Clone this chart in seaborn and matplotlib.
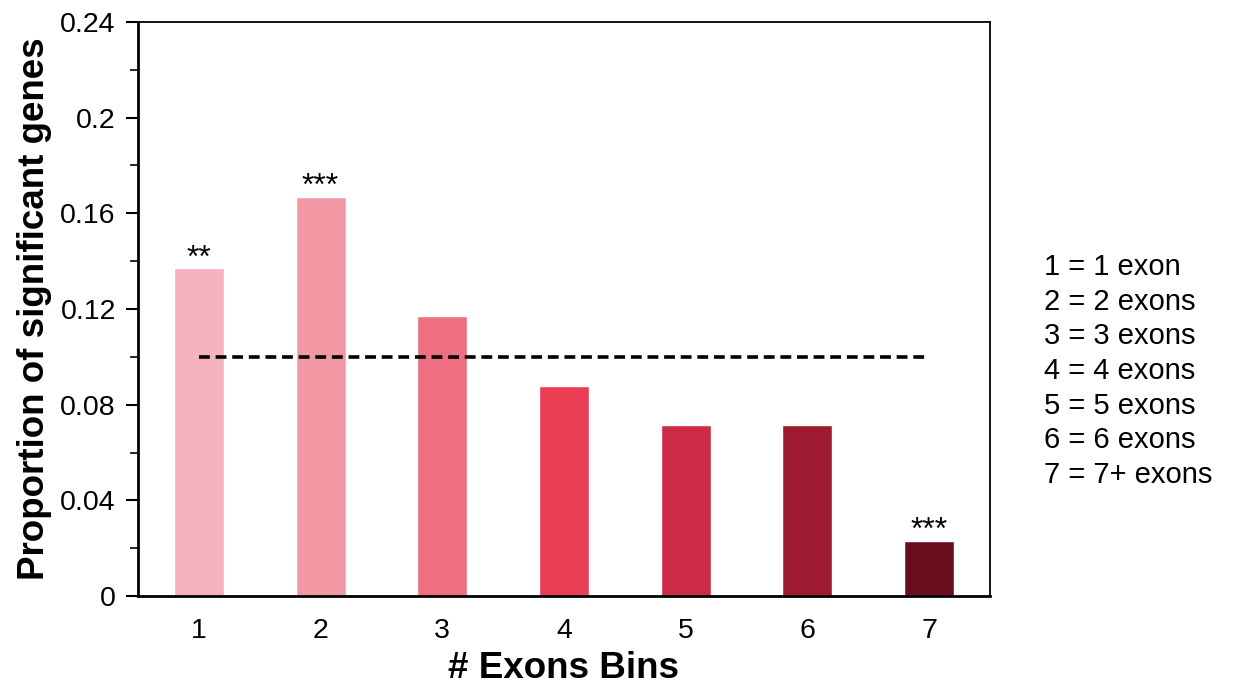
import matplotlib
matplotlib.use("Agg")
import matplotlib.pyplot as plt
import seaborn as sns
import pandas as pd
from matplotlib.ticker import MultipleLocator

bins = ["1", "2", "3", "4", "5", "6", "7"]
proportions = [0.137, 0.167, 0.117, 0.088, 0.0715, 0.0715, 0.0232]
stars = ["**", "***", "", "", "", "", "***"]
bar_colors = ["#F4B3BD", "#F298A3", "#EE6F82", "#EA3E55", "#CC2B45", "#9E1A31", "#6A0E1F"]
baseline = 0.1
legend_lines = ["1 = 1 exon", "2 = 2 exons", "3 = 3 exons", "4 = 4 exons",
                "5 = 5 exons", "6 = 6 exons", "7 = 7+ exons"]

sns.set_style("white")
plt.rcParams["font.family"] = ["Liberation Sans", "DejaVu Sans"]
plt.rcParams["text.color"] = "black"
plt.rcParams["axes.labelcolor"] = "black"
plt.rcParams["xtick.color"] = "black"
plt.rcParams["ytick.color"] = "black"

df = pd.DataFrame({"bin": bins, "prop": proportions})

fig = plt.figure(figsize=(12.34, 6.91), dpi=100)
ax = fig.add_axes([138 / 1234, 1 - 596 / 691, (990 - 138) / 1234, (596 - 22) / 691])

sns.barplot(data=df, x="bin", y="prop", hue="bin", palette=bar_colors,
            width=0.41, legend=False, ax=ax, saturation=1)

# overall proportion reference line
ax.plot([0, 6], [baseline, baseline], color="black", linestyle=(0, (3, 1.6)), linewidth=2.6)

for i, (v, s) in enumerate(zip(proportions, stars)):
    if s:
        ax.text(i, v + 0.0005, s, ha="center", va="baseline", fontsize=23)

ax.set_xlim(-0.5, 6.5)
ax.set_ylim(0, 0.24)
ax.yaxis.set_minor_locator(MultipleLocator(0.02))
ax.set_yticks([0, 0.04, 0.08, 0.12, 0.16, 0.2, 0.24])
ax.set_yticklabels(["0", "0.04", "0.08", "0.12", "0.16", "0.2", "0.24"])
ax.tick_params(axis="y", which="major", direction="out", length=9, width=1.5, labelsize=20.5, pad=7, left=True)
ax.tick_params(axis="y", which="minor", direction="out", length=6, width=1.2, left=True)
ax.tick_params(axis="x", length=0, labelsize=20.5, pad=16)

for side in ["left", "bottom", "top", "right"]:
    ax.spines[side].set_visible(True)
    ax.spines[side].set_color("black")
ax.spines["left"].set_linewidth(2)
ax.spines["bottom"].set_linewidth(2)
ax.spines["top"].set_linewidth(1.3)
ax.spines["right"].set_linewidth(1.3)

ax.set_xlabel("# Exons Bins", fontsize=26.5, fontweight="bold", labelpad=5)
ax.set_ylabel("Proportion of significant genes", fontsize=26.5, fontweight="bold", labelpad=6)

for k, line in enumerate(legend_lines):
    fig.text(1044 / 1234, 1 - (267 + k * 34.7) / 691, line, fontsize=21,
             ha="left", va="center")

fig.savefig("out.png", dpi=100, facecolor="white")
